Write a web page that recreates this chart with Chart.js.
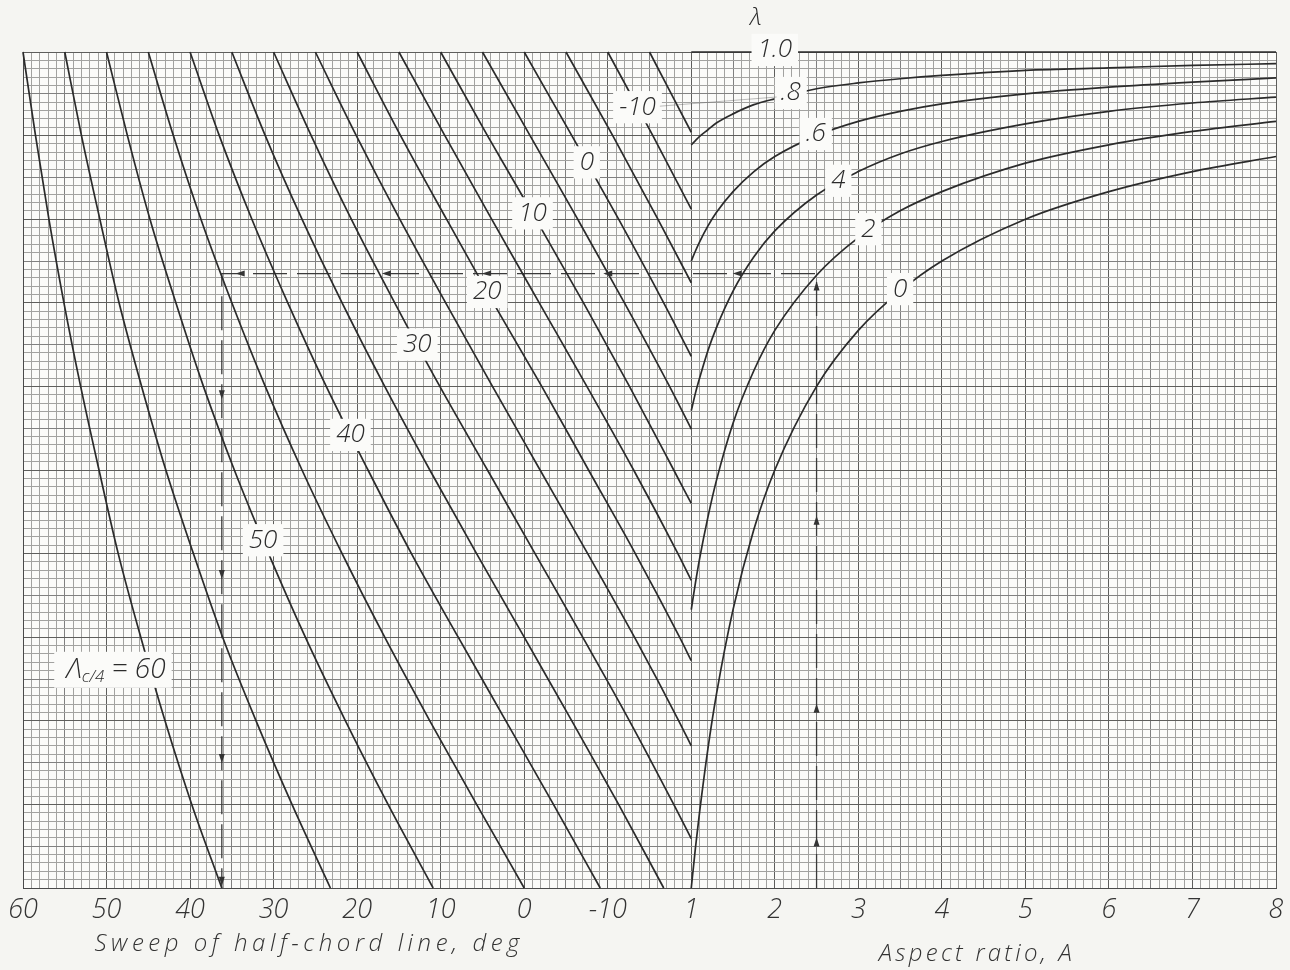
<!DOCTYPE html>
<html>
<head>
<meta charset="utf-8">
<script src="https://cdn.jsdelivr.net/npm/chart.js@4.4.1/dist/chart.umd.min.js"></script>
<style>
  html, body { margin: 0; padding: 0; background: #f5f5f2; }
  canvas { display: block; }
</style>
</head>
<body>
<canvas id="chart" width="1290" height="970"></canvas>
<script>
// nomogram: taper-ratio curves vs aspect ratio (right) feed the
// quarter-chord sweep lines (left) that give the half-chord sweep

const tickLabels = ['60', '50', '40', '30', '20', '10', '0', '-10', '1', '2', '3', '4', '5', '6', '7', '8'];

// left half: half-chord sweep (deg) read at each level of the common vertical scale
const sweepLevels = [10, 9, 8, 7, 6, 5, 4, 3, 2, 1, 0];
const quarterChordSweeps = [60, 55, 50, 45, 40, 35, 30, 25, 20, 15, 10, 5, 0, -5, -10, -15];
const halfChordSweeps = [
  [60, 58.5, 56.9, 55.1, 53.1, 50.9, 48.6, 45.9, 43.0, 39.8, 36.2],
  [55, 53.0, 50.8, 48.5, 45.8, 42.9, 39.6, 36.1, 32.1, 27.8, 23.2],
  [50, 47.5, 44.8, 41.7, 38.4, 34.7, 30.6, 26.2, 21.4, 16.3, 10.9],
  [45, 42.0, 38.7, 35.0, 31.0, 26.6, 21.8, 16.7, 11.3, 5.7, 0],
  [40, 36.5, 32.6, 28.3, 23.7, 18.7, 13.5, 7.9, 2.2, -3.5, -9.1],
  [35, 31.0, 26.6, 21.8, 16.7, 11.3, 5.7, 0.0, -5.7, -11.3, -16.7],
  [30, 25.5, 20.7, 15.5, 10.1, 4.4, -1.3, -7.0, -12.6, -17.9],
  [25, 20.1, 14.9, 9.4, 3.8, -1.9, -7.6, -13.2, -18.5],
  [20, 14.8, 9.3, 3.7, -2.1, -7.7, -13.3, -18.6],
  [15, 9.5, 3.9, -1.8, -7.5, -13.1, -18.4],
  [10, 4.4, -1.4, -7.1, -12.6, -17.9],
  [5, -0.7, -6.4, -12.0, -17.4],
  [0, -5.7, -11.3, -16.7],
  [-5, -10.6, -16.0],
  [-10, -15.4],
  [-15]
];
// level where each sweep line runs into the A = 1 divider (null: reaches the bottom)
const dividerLevels = [null, null, null, null, null, null, 0.59, 1.70, 2.72, 3.68, 4.60, 5.49, 6.36, 7.24, 8.12, 9.04];

// right half: level of each taper-ratio curve against aspect ratio
const aspectRatios = [1, 1.05, 1.1, 1.2, 1.3, 1.5, 1.75, 2, 2.5, 3, 3.5, 4, 5, 6, 7, 8];
const taperRatios = [1.0, 0.8, 0.6, 0.4, 0.2, 0];
const taperCurves = [
  [10, 10, 10, 10, 10, 10, 10, 10, 10, 10, 10, 10, 10, 10, 10, 10],
  [8.89, 8.94, 8.99, 9.07, 9.15, 9.26, 9.37, 9.44, 9.56, 9.63, 9.68, 9.72, 9.78, 9.81, 9.84, 9.86],
  [7.50, 7.62, 7.73, 7.92, 8.08, 8.33, 8.57, 8.75, 9.00, 9.17, 9.29, 9.38, 9.50, 9.58, 9.64, 9.69],
  [5.71, 5.92, 6.10, 6.43, 6.70, 7.14, 7.55, 7.86, 8.29, 8.57, 8.78, 8.93, 9.14, 9.29, 9.39, 9.46],
  [3.33, 3.65, 3.94, 4.44, 4.87, 5.56, 6.19, 6.67, 7.33, 7.78, 8.10, 8.33, 8.67, 8.89, 9.05, 9.17],
  [0, 0.48, 0.91, 1.67, 2.31, 3.33, 4.29, 5.00, 6.00, 6.67, 7.14, 7.50, 8.00, 8.33, 8.57, 8.75]
];

// worked example: A = 2.5, taper 0.2, quarter-chord sweep 45 -> half-chord sweep 36
const exampleAspect = 2.5;
const exampleLevel = 7.35;
const exampleSweep = 36.2;

// both halves share one linear x scale: 0..7 for sweep 60..-10, 8..15 for A 1..8
const sweepPos = (deg) => (60 - deg) / 10;
const aspectPos = (a) => 7 + a;

const INK = '#2b2b2b';
const PAPER = '#fbfbf9';
const FONT = '"Open Sans", "DejaVu Sans", sans-serif';

const sweepLines = quarterChordSweeps.map((q, i) => {
  const pts = halfChordSweeps[i].map((s, j) => ({ x: sweepPos(s), y: sweepLevels[j] }));
  if (dividerLevels[i] !== null) pts.push({ x: aspectPos(1), y: dividerLevels[i] });
  return pts;
});

const taperLines = taperCurves.map((ys) =>
  ys.map((y, j) => ({ x: aspectPos(aspectRatios[j]), y }))
);

const curveStyle = {
  borderColor: INK,
  borderWidth: 1.7,
  pointRadius: 0,
  cubicInterpolationMode: 'monotone',
  fill: false,
  clip: 3
};

const datasets = [
  ...sweepLines.map((data, i) => ({ label: 'sweep ' + quarterChordSweeps[i], data, ...curveStyle })),
  ...taperLines.map((data, i) => ({ label: 'taper ' + taperRatios[i], data, ...curveStyle })),
  {
    label: 'example',
    data: [
      { x: aspectPos(exampleAspect), y: 0 },
      { x: aspectPos(exampleAspect), y: exampleLevel },
      { x: sweepPos(exampleSweep), y: exampleLevel },
      { x: sweepPos(exampleSweep), y: 0 }
    ],
    borderColor: '#3a3a3a',
    borderWidth: 1.3,
    borderDash: [34, 10],
    pointRadius: 0,
    tension: 0,
    fill: false,
    clip: 3
  }
];

// find x on a polyline at a given level
function xAtLevel(pts, level) {
  for (let i = 0; i < pts.length - 1; i++) {
    const a = pts[i], b = pts[i + 1];
    if ((a.y - level) * (b.y - level) <= 0 && a.y !== b.y) {
      return a.x + (b.x - a.x) * (level - a.y) / (b.y - a.y);
    }
  }
  return pts[pts.length - 1].x;
}

// find level on a polyline at a given x
function levelAtX(pts, x) {
  for (let i = 0; i < pts.length - 1; i++) {
    const a = pts[i], b = pts[i + 1];
    if (x >= a.x && x <= b.x) return a.y + (b.y - a.y) * (x - a.x) / (b.x - a.x);
  }
  return pts[pts.length - 1].y;
}

function tag(ctx, text, px, py, size) {
  ctx.font = `italic 300 ${size}px ${FONT}`;
  const w = ctx.measureText(text).width;
  ctx.fillStyle = PAPER;
  ctx.fillRect(px - w / 2 - 6, py - size * 0.62, w + 12, size * 1.24);
  ctx.fillStyle = INK;
  ctx.textAlign = 'center';
  ctx.textBaseline = 'middle';
  ctx.fillText(text, px, py);
  return { left: px - w / 2 - 6, right: px + w / 2 + 6, y: py };
}

function arrowHead(ctx, px, py, dir) {
  const len = 9, half = 3;
  ctx.beginPath();
  if (dir === 'up') {
    ctx.moveTo(px, py - len / 2); ctx.lineTo(px - half, py + len / 2); ctx.lineTo(px + half, py + len / 2);
  } else if (dir === 'down') {
    ctx.moveTo(px, py + len / 2); ctx.lineTo(px - half, py - len / 2); ctx.lineTo(px + half, py - len / 2);
  } else {
    ctx.moveTo(px - len / 2, py); ctx.lineTo(px + len / 2, py - half); ctx.lineTo(px + len / 2, py + half);
  }
  ctx.closePath();
  ctx.fill();
}

const paperPlugin = {
  id: 'paper',
  beforeDraw(chart) {
    const { ctx, chartArea: a } = chart;
    ctx.save();
    ctx.fillStyle = '#f5f5f2';
    ctx.fillRect(0, 0, chart.width, chart.height);
    ctx.fillStyle = PAPER;
    ctx.fillRect(a.left, a.top, a.right - a.left, a.bottom - a.top);
    ctx.restore();
  }
};

const letteringPlugin = {
  id: 'lettering',
  afterDatasetsDraw(chart) {
    const { ctx, chartArea: area, scales: { x, y } } = chart;
    ctx.save();

    // arrows along the worked example
    ctx.fillStyle = '#333';
    const ax = x.getPixelForValue(aspectPos(exampleAspect));
    const sx = x.getPixelForValue(sweepPos(exampleSweep));
    const ly = y.getPixelForValue(exampleLevel);
    [0.55, 2.15, 4.4, 7.2].forEach((v) => arrowHead(ctx, ax, y.getPixelForValue(v), 'up'));
    [8.55, 7.0, 5.55, 4.35, 2.6].forEach((v) => arrowHead(ctx, x.getPixelForValue(v), ly, 'left'));
    [5.9, 3.75, 1.55, 0.08].forEach((v) => arrowHead(ctx, sx, y.getPixelForValue(v), 'down'));

    // taper-ratio labels on the right-hand curves
    const taperText = ['1.0', '.8', '.6', '4', '2', '0'];
    const taperAt = [2.0, 2.19, 2.49, 2.76, 3.12, 3.5];
    const boxes = {};
    taperText.forEach((t, i) => {
      const px = x.getPixelForValue(aspectPos(taperAt[i]));
      const py = y.getPixelForValue(levelAtX(taperLines[i], aspectPos(taperAt[i])));
      boxes[t] = tag(ctx, t, px, py - 2, 26);
    });
    ctx.font = `italic 300 24px ${FONT}`;
    ctx.fillStyle = INK;
    ctx.textAlign = 'center';
    ctx.fillText('λ', boxes['1.0'].left + 4, boxes['1.0'].y - 32);

    // quarter-chord sweep labels on the left-hand lines
    const sweepText = [-10, 0, 10, 20, 30, 40, 50];
    const sweepAt = [9.34, 8.68, 8.07, 7.13, 6.5, 5.42, 4.16];
    sweepText.forEach((q, i) => {
      const idx = quarterChordSweeps.indexOf(q);
      const lv = sweepAt[i];
      const px = x.getPixelForValue(xAtLevel(sweepLines[idx], lv));
      boxes['s' + q] = tag(ctx, String(q), px, y.getPixelForValue(lv), 26);
    });

    // faint leader from the -10 label toward the .8 curve
    ctx.strokeStyle = 'rgba(90,90,90,0.5)';
    ctx.lineWidth = 0.8;
    ctx.beginPath();
    ctx.moveTo(boxes['s-10'].right - 2, boxes['s-10'].y - 1);
    ctx.lineTo(boxes['.8'].left + 2, boxes['.8'].y + 4);
    ctx.stroke();

    // "Λc/4 = 60" with the figure sitting on the 60-degree line
    const px60 = x.getPixelForValue(xAtLevel(sweepLines[0], 2.61));
    const py60 = y.getPixelForValue(2.61);
    ctx.font = `italic 300 28px ${FONT}`;
    const wSym = ctx.measureText('Λ').width;
    const w60 = ctx.measureText(' = 60').width;
    const wNum = ctx.measureText('60').width;
    ctx.font = `italic 300 17px ${FONT}`;
    const wSub = ctx.measureText('c/4').width;
    const end = px60 + wNum / 2;
    const start = end - w60 - wSub - wSym;
    ctx.fillStyle = PAPER;
    ctx.fillRect(start - 12, py60 - 18, end - start + 18, 36);
    ctx.fillStyle = INK;
    ctx.textAlign = 'left';
    ctx.textBaseline = 'middle';
    ctx.font = `italic 300 28px ${FONT}`;
    ctx.fillText('Λ', start, py60);
    ctx.fillText(' = 60', start + wSym + wSub, py60);
    ctx.font = `italic 300 17px ${FONT}`;
    ctx.fillText('c/4', start + wSym, py60 + 7);

    // tick labels along the bottom edge
    ctx.font = `italic 300 27px ${FONT}`;
    ctx.fillStyle = '#333';
    ctx.textAlign = 'center';
    tickLabels.forEach((t, i) => {
      ctx.fillText(t, x.getPixelForValue(i), area.bottom + 22);
    });

    // axis titles, spread out like hand lettering
    const spread = (text, cx, cy, width, size) => {
      ctx.font = `italic 300 ${size}px ${FONT}`;
      ctx.letterSpacing = '0px';
      const plain = ctx.measureText(text).width;
      ctx.letterSpacing = ((width - plain) / (text.length - 1)).toFixed(2) + 'px';
      ctx.textAlign = 'left';
      ctx.fillText(text, cx - width / 2, cy);
      ctx.letterSpacing = '0px';
    };
    spread('Sweep of half-chord line, deg', x.getPixelForValue(3.4), area.bottom + 56, 425, 24);
    spread('Aspect ratio, A', x.getPixelForValue(aspectPos(4.4)), area.bottom + 66, 193, 24);

    ctx.restore();
  }
};

const isWhole = (v) => Math.abs(v - Math.round(v)) < 1e-6;
const isHalf = (v) => Math.abs(v * 2 - Math.round(v * 2)) < 1e-6;
const gridColor = (c) => {
  const v = c.tick ? c.tick.value : 0;
  if (isWhole(v)) return '#5e5e5c';
  if (isHalf(v)) return '#808080';
  return '#a2a2a0';
};

new Chart(document.getElementById('chart'), {
  type: 'line',
  data: { datasets },
  options: {
    responsive: false,
    animation: false,
    layout: { padding: { left: 23, right: 14, top: 52, bottom: 82 } },
    plugins: { legend: { display: false }, tooltip: { enabled: false } },
    scales: {
      x: {
        type: 'linear', min: 0, max: 15,
        ticks: { stepSize: 0.1, display: false },
        grid: { color: gridColor, lineWidth: 1, drawTicks: false },
        border: { display: true, color: '#4a4a4a', width: 1 }
      },
      y: {
        type: 'linear', min: 0, max: 10,
        ticks: { stepSize: 0.1, display: false },
        grid: { color: gridColor, lineWidth: 1, drawTicks: false },
        border: { display: true, color: '#4a4a4a', width: 1 }
      }
    }
  },
  plugins: [paperPlugin, letteringPlugin]
});
</script>
</body>
</html>
